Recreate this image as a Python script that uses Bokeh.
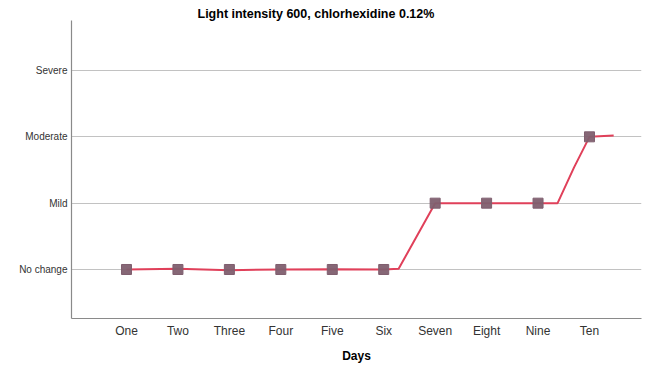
from bokeh.plotting import figure
from bokeh.models import FixedTicker, Title
from bokeh.embed import file_html
from bokeh.resources import INLINE

days = ["One", "Two", "Three", "Four", "Five", "Six", "Seven", "Eight", "Nine", "Ten"]
severity_labels = ["No change", "Mild", "Moderate", "Severe"]
scores = [0, 0, 0, 0, 0, 0, 1, 1, 1, 2]

# interpolated curve as drawn in the original (day position, score)
curve_day = [0, 1, 2, 3, 4, 5, 5.29, 6, 7, 8, 8.38, 8.7, 9, 9.47]
curve_score = [0, 0.01, -0.01, 0, 0.005, 0, 0.01, 1, 1, 1, 1.0, 1.54, 2, 2.02]

day_pos = list(range(len(days)))

p = figure(width=657, height=365, output_backend="svg", toolbar_location=None,
           x_range=(-1.069, 10.011), y_range=(-0.739, 3.754),
           min_border_left=71, min_border_right=16, min_border_top=20, min_border_bottom=47)
p.add_layout(Title(text="Light intensity 600, chlorhexidine 0.12%", align="left", offset=126,
                   text_font="Liberation Sans", text_font_size="12.5px", text_font_style="bold",
                   text_color="#000000", standoff=0), "above")

p.outline_line_color = None
p.xgrid.grid_line_color = None
p.ygrid.grid_line_color = "#c2c2c2"
p.ygrid.grid_line_width = 1.2

p.xaxis.ticker = FixedTicker(ticks=day_pos)
p.xaxis.major_label_overrides = {i: d for i, d in enumerate(days)}
p.yaxis.ticker = FixedTicker(ticks=list(range(len(severity_labels))))
p.yaxis.major_label_overrides = {i: s for i, s in enumerate(severity_labels)}

for ax in (p.xaxis, p.yaxis):
    ax.axis_line_color = "#8a8a8a"
    ax.axis_line_width = 1.2
    ax.major_tick_line_color = None
    ax.minor_tick_line_color = None
    ax.major_tick_out = 0
    ax.major_tick_in = 0
    ax.minor_tick_out = 0
    ax.major_label_text_font = "Liberation Sans"
    ax.major_label_text_color = "#333333"

p.xaxis.major_label_text_font_size = "12px"
p.xaxis.major_label_standoff = 5
p.yaxis.major_label_text_font_size = "10px"
p.yaxis.major_label_standoff = 4
p.xaxis.axis_label = "Days"
p.xaxis.axis_label_text_font = "Liberation Sans"
p.xaxis.axis_label_text_font_size = "12px"
p.xaxis.axis_label_text_font_style = "bold"
p.xaxis.axis_label_text_color = "#000000"
p.xaxis.axis_label_standoff = 8

p.line(curve_day, curve_score, line_color="#e0405a", line_width=2)
p.scatter(day_pos, scores, marker="square", size=10, fill_color="#7f5f6f",
          line_color="#7f5f6f", fill_alpha=0.95)

open("out.html", "w").write(file_html(p, INLINE))
